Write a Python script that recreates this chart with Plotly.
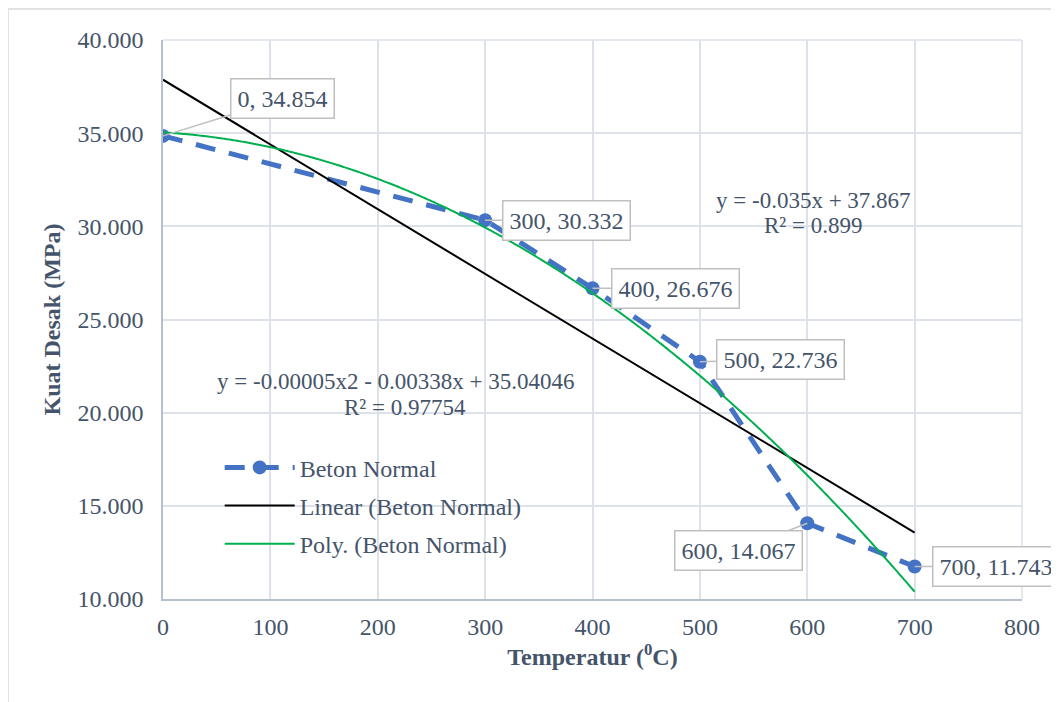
import numpy as np
import plotly.graph_objects as go

# ---- data ----
temperature = [0, 300, 400, 500, 600, 700]
strength = [34.854, 30.332, 26.676, 22.736, 14.067, 11.743]
series_name = "Beton Normal"
x_ticks = [0, 100, 200, 300, 400, 500, 600, 700, 800]
y_ticks = [10, 15, 20, 25, 30, 35, 40]
linear_eq = ["y = -0.035x + 37.867", "R² = 0.899"]
poly_eq = ["y = -0.00005x2 - 0.00338x + 35.04046", "R² = 0.97754"]

# trendlines fitted from the data (as the spreadsheet does)
xs = np.array(temperature, dtype=float)
ys = np.array(strength, dtype=float)
lin = np.polyfit(xs, ys, 1)
quad = np.polyfit(xs, ys, 2)
xfit = np.linspace(xs.min(), xs.max(), 300)

FONT = "Liberation Serif"
TXT = "#44546a"
GRID = "#dde1e9"
AX = "#b7bfcf"

fig = go.Figure()
fig.add_trace(go.Scatter(
    x=temperature, y=strength, name=series_name, mode="lines+markers",
    line=dict(color="#4472c4", width=5, dash="20px,14px"),
    marker=dict(size=14, color="#4472c4"), legendgroup="a",
))
fig.add_trace(go.Scatter(
    x=xfit, y=np.polyval(lin, xfit), name="Linear (" + series_name + ")",
    mode="lines", line=dict(color="black", width=2), legendgroup="b",
))
fig.add_trace(go.Scatter(
    x=xfit, y=np.polyval(quad, xfit), name="Poly. (" + series_name + ")",
    mode="lines", line=dict(color="#00b050", width=2, shape="spline"),
    legendgroup="c",
))

# data label offsets (pixels) for callouts
offsets = [(119, -37), (81, 0), (83, 0), (81, -2), (-69, 27), (81, 0)]
for (x, y), (ax, ay) in zip(zip(temperature, strength), offsets):
    fig.add_annotation(
        x=x, y=y, xref="x", yref="y", text=f"{x}, {y:.3f}",
        showarrow=True, arrowhead=0, arrowcolor="#bfbfbf", arrowwidth=1.5,
        ax=ax, ay=ay, bgcolor="white", bordercolor="#bfbfbf", borderwidth=1.5,
        borderpad=6, font=dict(family=FONT, size=24, color=TXT),
    )

# trendline equations
for txt, px, py in [(linear_eq[0], 813, 200), (linear_eq[1], 813, 226),
                    (poly_eq[0], 396, 381), (poly_eq[1], 405, 407)]:
    fig.add_annotation(
        x=(px - 163) / 859, y=(599 - py) / 559, xref="paper", yref="paper",
        text=txt, showarrow=False, xanchor="center", yanchor="middle",
        font=dict(family=FONT, size=23, color=TXT),
    )

# outer chart border
fig.add_shape(type="rect", xref="paper", yref="paper",
              x0=(8 - 163) / 859, x1=(1070 - 163) / 859,
              y0=(599 - 715) / 559, y1=(599 - 9) / 559,
              line=dict(color="#d9d9d9", width=1.5), fillcolor="rgba(0,0,0,0)",
              layer="below")

fig.update_layout(
    width=1051, height=694,
    margin=dict(l=155, r=37, t=32, b=103, autoexpand=False),
    paper_bgcolor="white", plot_bgcolor="white",
    font=dict(family=FONT, size=24, color=TXT),
    showlegend=True,
    legend=dict(x=0.066, y=0.275, xanchor="left", yanchor="top",
                bgcolor="rgba(0,0,0,0)", font=dict(family=FONT, size=24, color=TXT),
                tracegroupgap=4, itemwidth=70),
    xaxis=dict(range=[0, 800], tickvals=x_ticks, showgrid=True, gridcolor=GRID,
               gridwidth=1.5, showline=True, linecolor=AX, linewidth=1.5,
               zeroline=False, ticklabelstandoff=5,
               tickfont=dict(family=FONT, size=24, color=TXT),
               title=dict(text="<b>Temperatur (<sup>0</sup>C)</b>", standoff=6,
                          font=dict(family=FONT, size=24, color=TXT))),
    yaxis=dict(range=[10, 40], tickvals=y_ticks, tickformat=".3f", showgrid=True,
               gridcolor=GRID, gridwidth=1.5, showline=True, linecolor=AX,
               linewidth=1.5, zeroline=False, ticklabelstandoff=13,
               tickfont=dict(family=FONT, size=24, color=TXT),
               title=dict(text="<b>Kuat Desak (MPa)</b>", standoff=10,
                          font=dict(family=FONT, size=24, color=TXT))),
)
# top/right frame as gridlines
fig.add_shape(type="line", xref="paper", yref="paper", x0=0, x1=1, y0=1, y1=1,
              line=dict(color=GRID, width=1.5), layer="below")
fig.add_shape(type="line", xref="paper", yref="paper", x0=1, x1=1, y0=0, y1=1,
              line=dict(color=GRID, width=1.5), layer="below")

fig.write_html("out.html")
